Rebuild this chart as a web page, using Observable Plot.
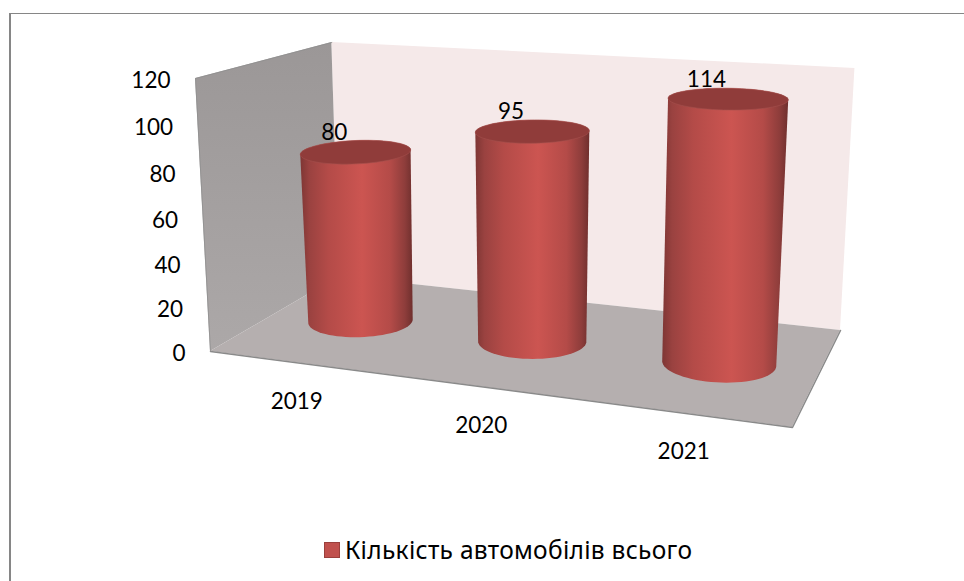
<!DOCTYPE html>
<html lang="uk">
<head>
<meta charset="utf-8">
<script src="https://cdn.jsdelivr.net/npm/d3@7"></script>
<script src="https://cdn.jsdelivr.net/npm/@observablehq/plot@0.6"></script>
<style>
  html, body { margin: 0; background: #fff; }
  body { width: 964px; height: 581px; position: relative; overflow: hidden; font-family: Lato, "Noto Sans", sans-serif; color: #000; }
  #frame { position: absolute; left: 9px; top: 13px; right: -4px; bottom: -4px; border-top: 1px solid #868686; border-left: 2px solid #868686; pointer-events: none; }
  #chart svg { display: block; }
  #legend { display: flex; align-items: center; gap: 5px; position: absolute; left: 324px; top: 535px; font-family: "Noto Sans", sans-serif; font-size: 24.5px; letter-spacing: 0.3px; line-height: 30px; white-space: nowrap; }
  #legend i { display: block; width: 14px; height: 14px; background: #c0504d; border: 1px solid #9a3f3c; }
</style>
</head>
<body>
<div id="chart"></div>
<div id="frame"></div>
<div id="legend"><i></i><span>Кількість автомобілів всього</span></div>
<script>
const years = ["2019", "2020", "2021"];
const counts = [80, 95, 114];
const yTicks = [0, 20, 40, 60, 80, 100, 120];
const yMax = 120;

// Screen anchors of the 3D box: floor corners, then the tops of the left wall.
const origin = [210, 351], floorRight = [792, 427], floorBack = [338.8, 276], floorBackRight = [840, 330];
const wallTop = [195, 78], wallBackTop = [329, 42];

// Perspective camera solved from the anchors: u runs along the categories,
// v up the value axis, w into the depth of the box (each from 0 to 1).
const dx1 = floorRight[0] - floorBackRight[0], dy1 = floorRight[1] - floorBackRight[1];
const dx2 = floorBack[0] - floorBackRight[0], dy2 = floorBack[1] - floorBackRight[1];
const sx = origin[0] - floorRight[0] + floorBackRight[0] - floorBack[0];
const sy = origin[1] - floorRight[1] + floorBackRight[1] - floorBack[1];
const den = dx1 * dy2 - dx2 * dy1;
const wu = (sx * dy2 - dx2 * sy) / den;
const ww = (dx1 * sy - sx * dy1) / den;
const wv = ((wallBackTop[1] - floorBack[1]) * (1 + ww) - wallTop[1] + origin[1]) / (wallTop[1] - wallBackTop[1]);

function project(u, v, w) {
  const d = 1 + wu * u + wv * v + ww * w;
  const c = (k) => (origin[k]
    + u * (floorRight[k] * (1 + wu) - origin[k])
    + v * (wallTop[k] * (1 + wv) - origin[k])
    + w * (floorBack[k] * (1 + ww) - origin[k])) / d;
  return [c(0), c(1)];
}
const at = (category, value, depth) => project((category + 0.5) / years.length, value / yMax, depth);

// Walls and floor as strips between two edges.
function face(edgeA, edgeB) {
  return edgeA.map((a, i) => {
    const p = project(...a), q = project(...edgeB[i]);
    return {x1: p[0], y1: p[1], x2: q[0], y2: q[1]};
  });
}
const backWall = face([[0, 1, 1], [1, 1, 1]], [[0, 0, 1], [1, 0, 1]]);
const leftWall = face([[0, 1, 0], [0, 1, 1]], [[0, 0, 0], [0, 0, 1]]);
const floor = face([[0, 0, 0], [1, 0, 0]], [[0, 0, 1], [1, 0, 1]]);
const floorFront = [project(0, 0, 0), project(1, 0, 0), project(1, 0, 1)];
const wallFront = [project(0, 0, 0), project(0, 1, 0), project(0, 1, 1)];

// Cylinder outlines taken from each count: the body is the hull of the two rims.
const radiusU = 0.095, baseRadiusW = 0.195, capRadiusW = 0.22, steps = 72;
const ring = (i, value, radiusW) => d3.range(steps).map((s) => {
  const t = (2 * Math.PI * s) / steps;
  return project((i + 0.5) / years.length + radiusU * Math.cos(t), value / yMax, 0.5 + radiusW * Math.sin(t));
});
const bodies = counts.flatMap((value, i) =>
  d3.polygonHull([...ring(i, 0, baseRadiusW), ...ring(i, value, capRadiusW)]).map(([x, y]) => ({year: years[i], x, y})));
const caps = counts.flatMap((value, i) =>
  ring(i, value, capRadiusW).map(([x, y]) => ({year: years[i], x, y})));

const valueLabels = counts.map((value, i) => {
  const [x, y] = at(i, value, 0.5);
  return {x, y, text: String(value)};
});
const tickLabels = yTicks.map((value) => {
  const [x, y] = project(0, value / yMax, 0);
  return {x, y, text: String(value)};
});
const yearLabels = years.map((year, i) => {
  const [x, y] = at(i, 0, 0);
  return {x, y, text: year};
});

// Shading shared by the cylinders and the left wall.
function defs() {
  const d = d3.create("svg:defs");
  const body = d.append("linearGradient").attr("id", "cylinderBody");
  [[0, "#7e3634"], [0.08, "#9a4240"], [0.25, "#b44b48"], [0.55, "#cc5551"], [0.8, "#b44b48"], [0.93, "#8e3d3b"], [1, "#6f2f2d"]]
    .forEach(([o, c]) => body.append("stop").attr("offset", o).attr("stop-color", c));
  const wall = d.append("linearGradient").attr("id", "leftWallShade").attr("x2", 0).attr("y2", 1);
  [[0, "#9b9797"], [1, "#aca8a8"]]
    .forEach(([o, c]) => wall.append("stop").attr("offset", o).attr("stop-color", c));
  return d.node();
}

const textStyle = {fontFamily: 'Lato, "Noto Sans", sans-serif', fontSize: 22.5, fill: "#000", stroke: null};
const closed = {x: "x", y: "y", curve: "linear-closed"};

const plot = Plot.plot({
  width: 964,
  height: 530,
  margin: 0,
  x: {domain: [0, 964], range: [0, 964], axis: null},
  y: {domain: [0, 530], range: [0, 530], axis: null},
  marks: [
    defs,
    Plot.area(backWall, {x1: "x1", y1: "y1", x2: "x2", y2: "y2", fill: "#f5e9e9"}),
    Plot.area(leftWall, {x1: "x1", y1: "y1", x2: "x2", y2: "y2", fill: "url(#leftWallShade)"}),
    Plot.area(floor, {x1: "x1", y1: "y1", x2: "x2", y2: "y2", fill: "#b5afaf"}),
    Plot.line(floorFront, {x: "0", y: "1", stroke: "#8a8a8a", strokeWidth: 1.5}),
    Plot.line(wallFront, {x: "0", y: "1", stroke: "#8f8f8f", strokeWidth: 0.8}),
    years.flatMap((year) => [
      Plot.line(bodies.filter((d) => d.year === year), {...closed, fill: "url(#cylinderBody)", stroke: null}),
      Plot.line(caps.filter((d) => d.year === year), {...closed, fill: "#903c3a", stroke: "#a5504d", strokeWidth: 0.6})
    ]),
    Plot.text(valueLabels, {x: "x", y: "y", text: "text", dx: -21.5, dy: -19, ...textStyle}),
    Plot.text(tickLabels, {x: "x", y: "y", text: "text", dx: -25, dy: 2.5, textAnchor: "end", ...textStyle}),
    Plot.text(yearLabels, {x: "x", y: "y", text: "text", dx: 0, dy: 39, ...textStyle})
  ]
});
document.getElementById("chart").append(plot);
</script>
</body>
</html>
